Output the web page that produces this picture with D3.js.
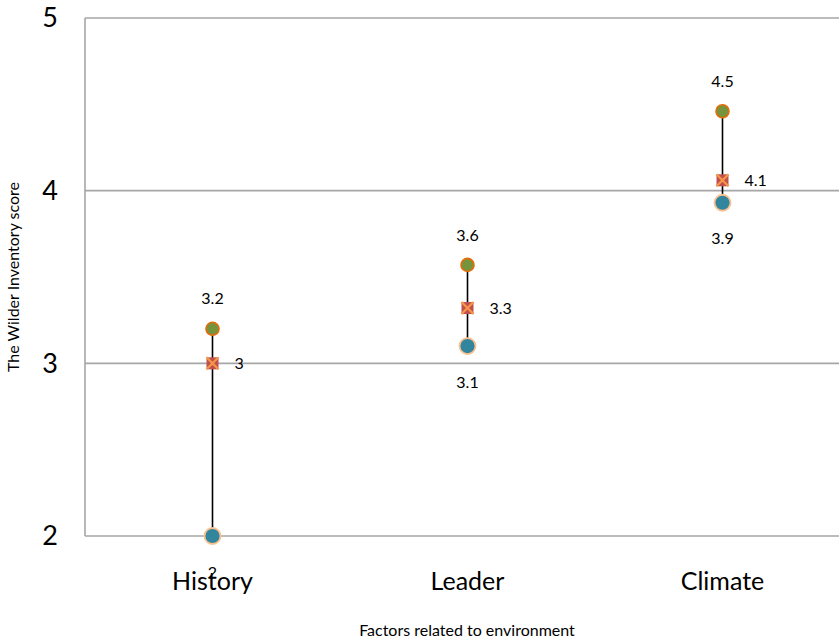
<!DOCTYPE html>
<html>
<head>
<meta charset="utf-8">
<script src="https://cdn.jsdelivr.net/npm/d3@7"></script>
<style>
  html, body { margin: 0; padding: 0; background: #fff; }
  svg { display: block; font-family: Lato, "Open Sans", sans-serif; }
</style>
</head>
<body>
<svg id="chart" width="839" height="642"></svg>
<script>
// Factors related to environment, scored on the Wilder Inventory
const categories = ["History", "Leader", "Climate"];
const highValues = [3.2, 3.57, 4.46];
const midValues  = [3.0, 3.32, 4.06];
const lowValues  = [2.0, 3.1, 3.93];
const yTicks = [2, 3, 4, 5];

const svg = d3.select("#chart");
const plotLeft = 85, plotRight = 850, plotTop = 18, plotBottom = 536;

const x = d3.scalePoint().domain(categories).range([plotLeft, plotRight]).padding(0.5);
const y = d3.scaleLinear().domain([2, 5]).range([plotBottom, plotTop]);

const fmt = v => String(+v.toFixed(1));

// horizontal gridlines
svg.append("g").selectAll("line").data(yTicks).join("line")
  .attr("x1", plotLeft).attr("x2", 839)
  .attr("y1", d => y(d)).attr("y2", d => y(d))
  .attr("stroke", "#a6a6a6").attr("stroke-width", 1.6);

// left border
svg.append("line")
  .attr("x1", plotLeft).attr("x2", plotLeft).attr("y1", y(5)).attr("y2", y(2))
  .attr("stroke", "#a6a6a6").attr("stroke-width", 1.6);

// y tick labels
svg.append("g").selectAll("text").data(yTicks).join("text")
  .attr("x", 58).attr("y", d => y(d)).attr("dy", "0.35em")
  .attr("text-anchor", "end").attr("font-size", 27).attr("fill", "#000")
  .text(d => d);

// category labels
svg.append("g").selectAll("text").data(categories).join("text")
  .attr("x", d => x(d)).attr("y", 590)
  .attr("text-anchor", "middle").attr("font-size", 25).attr("fill", "#000")
  .text(d => d);

// axis titles
svg.append("text")
  .attr("x", 467).attr("y", 636).attr("text-anchor", "middle")
  .attr("font-size", 16).attr("fill", "#000")
  .text("Factors related to environment");

svg.append("text")
  .attr("transform", `translate(19,${(plotTop + plotBottom) / 2}) rotate(-90)`)
  .attr("text-anchor", "middle").attr("font-size", 16).attr("fill", "#000")
  .text("The Wilder Inventory score");

const rows = categories.map((c, i) => ({
  c, hi: highValues[i], mid: midValues[i], lo: lowValues[i]
}));

// high-low connector
svg.append("g").selectAll("line").data(rows).join("line")
  .attr("x1", d => x(d.c)).attr("x2", d => x(d.c))
  .attr("y1", d => y(d.hi)).attr("y2", d => y(d.lo))
  .attr("stroke", "#000").attr("stroke-width", 1.6);

// high markers
svg.append("g").selectAll("circle").data(rows).join("circle")
  .attr("cx", d => x(d.c)).attr("cy", d => y(d.hi)).attr("r", 6.5)
  .attr("fill", "#77933c").attr("stroke", "#e46c0a").attr("stroke-width", 1.6);

// low markers
svg.append("g").selectAll("circle").data(rows).join("circle")
  .attr("cx", d => x(d.c)).attr("cy", d => y(d.lo)).attr("r", 8)
  .attr("fill", "#31859c").attr("stroke", "#fac090").attr("stroke-width", 1.8);

// mid markers: square with a cross
const s = 6;
const mids = svg.append("g").selectAll("g").data(rows).join("g")
  .attr("transform", d => `translate(${x(d.c)},${y(d.mid)})`);
mids.append("rect")
  .attr("x", -s).attr("y", -s).attr("width", 2 * s).attr("height", 2 * s)
  .attr("fill", "#c0504d");
mids.append("path")
  .attr("d", `M${-s},${-s}L${s},${s}M${s},${-s}L${-s},${s}`)
  .attr("stroke", "#f79646").attr("stroke-width", 2.2).attr("fill", "none");

// value labels
const lbl = svg.append("g").attr("font-size", 16).attr("fill", "#000");
lbl.selectAll("text.hi").data(rows).join("text").attr("class", "hi")
  .attr("x", d => x(d.c)).attr("y", d => y(d.hi) - 30).attr("dy", "0.35em")
  .attr("text-anchor", "middle").text(d => fmt(d.hi));
lbl.selectAll("text.mid").data(rows).join("text").attr("class", "mid")
  .attr("x", d => x(d.c) + 22).attr("y", d => y(d.mid)).attr("dy", "0.35em")
  .attr("text-anchor", "start").text(d => fmt(d.mid));
lbl.selectAll("text.lo").data(rows).join("text").attr("class", "lo")
  .attr("x", d => x(d.c)).attr("y", d => y(d.lo) + 36).attr("dy", "0.35em")
  .attr("text-anchor", "middle").text(d => fmt(d.lo));
</script>
</body>
</html>
